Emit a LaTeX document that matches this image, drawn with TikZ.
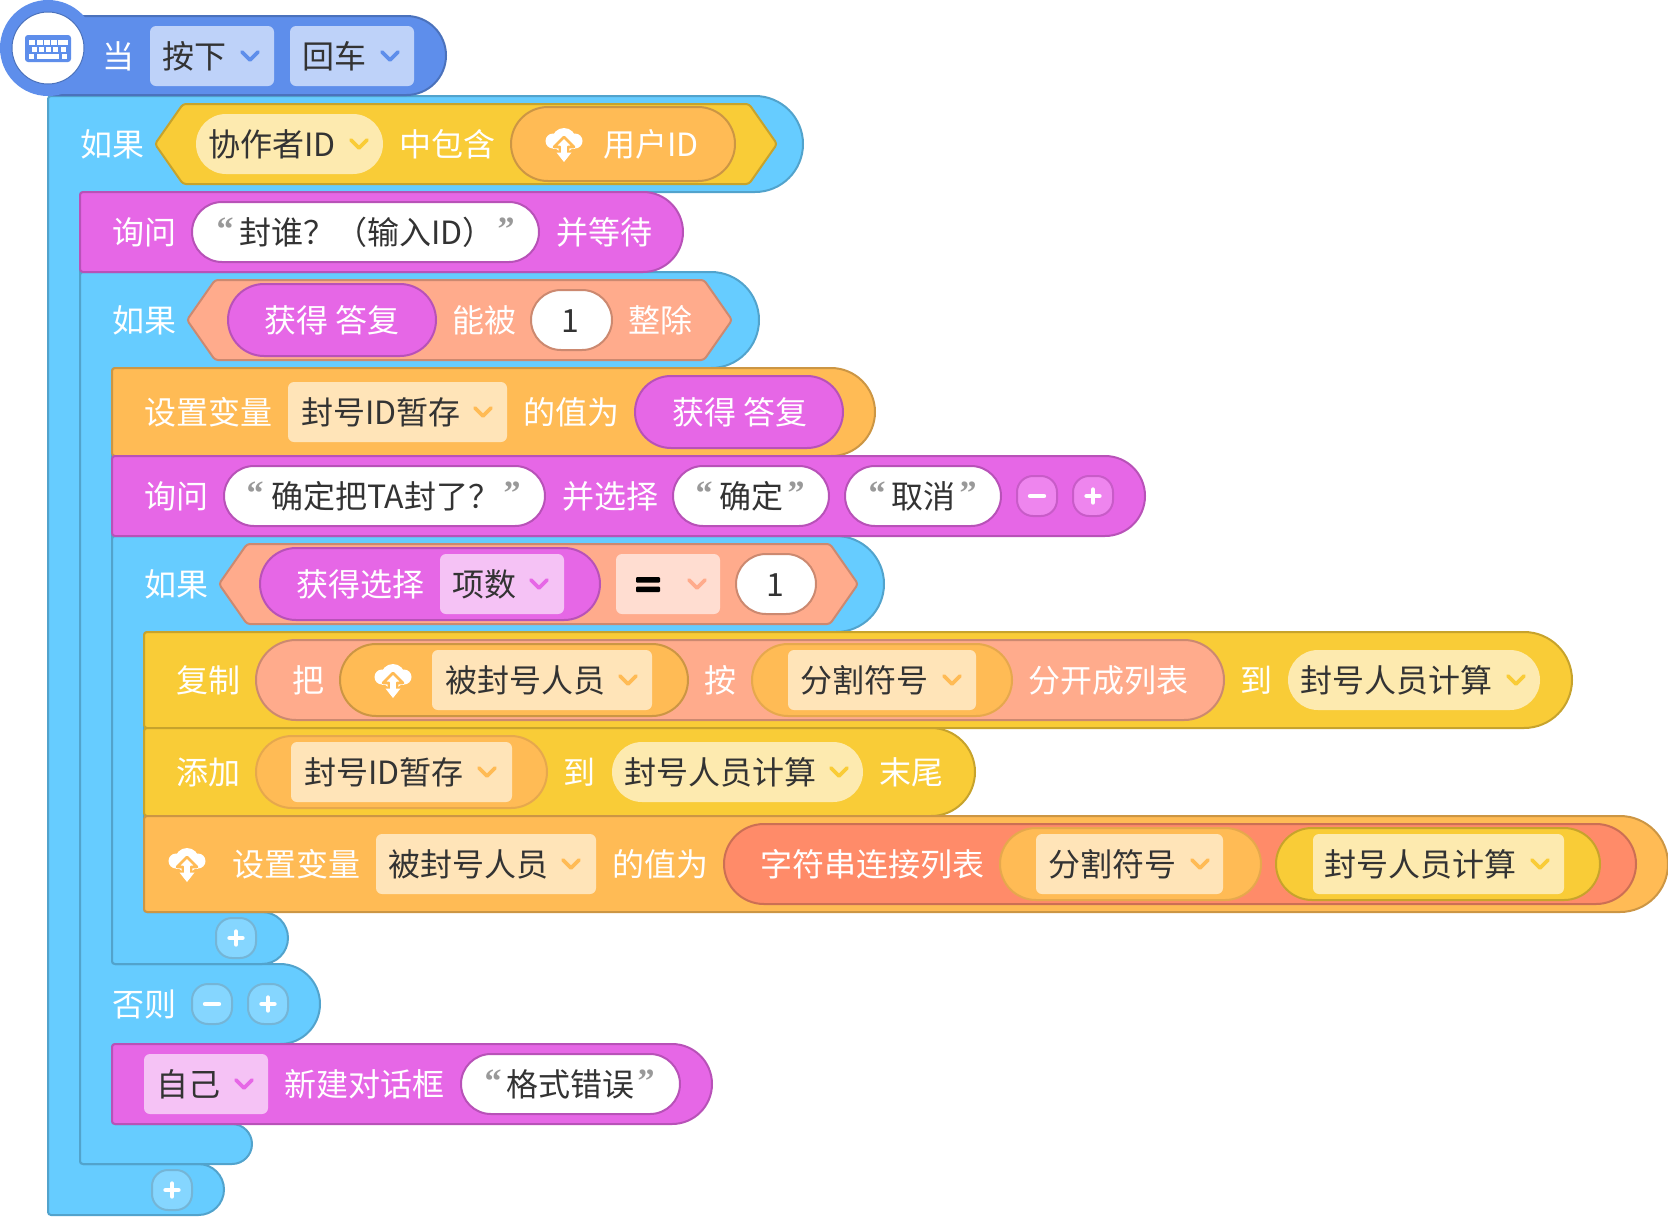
\documentclass[tikz,border=0pt]{standalone}
\usepackage{fontspec}
\setmainfont{Noto Sans CJK SC}
\newfontfamily\quotefont{Liberation Serif}
\definecolor{bluef}{HTML}{66CCFF}\definecolor{blued}{HTML}{52A3CC}\definecolor{bluel}{HTML}{85D6FF}
\definecolor{hatf}{HTML}{5E8EEB}\definecolor{hatd}{HTML}{4B72BC}\definecolor{hatl}{HTML}{BED2F9}
\definecolor{purf}{HTML}{E667E6}\definecolor{purd}{HTML}{B852B8}\definecolor{purl}{HTML}{F5C2F5}\definecolor{purb}{HTML}{EE85EE}\definecolor{purm}{HTML}{C85CC8}
\definecolor{orf}{HTML}{FFBB55}\definecolor{ord}{HTML}{CC9644}\definecolor{orl}{HTML}{FFE4B8}\definecolor{orp}{HTML}{E6A84D}
\definecolor{yef}{HTML}{F9CC37}\definecolor{yed}{HTML}{C7A32C}\definecolor{yel}{HTML}{FDEAAF}
\definecolor{saf}{HTML}{FFAB8C}\definecolor{sad}{HTML}{CC8970}\definecolor{sal}{HTML}{FFDDD1}
\definecolor{ref}{HTML}{FF8B69}\definecolor{red2}{HTML}{CC6F54}
\definecolor{ink}{HTML}{333333}
\newcount\nodeno
\tikzset{
  txt/.style={inner sep=0pt,outer sep=0pt,text height=24pt,text depth=0pt,font=\fontsize{32}{32}\selectfont},
  wtxt/.style={txt,text=white},
  dtxt/.style={txt,text=ink},
  qtxt/.style={inner sep=0pt,anchor=base,text=black!40,font=\fontsize{34}{34}\selectfont\quotefont\bfseries},
  cblock/.style={fill=bluef,draw=blued,line width=2pt},
  chev/.style={line width=3.6pt,line cap=round,line join=round},
  btn/.style={fill=bluel,draw=blued!80,line width=2pt,rounded corners=16pt},
  bbtn/.style={fill=purb,draw=purm,line width=2pt,rounded corners=16pt},
  sign/.style={draw=white,line width=4.4pt,line cap=round}
}
% text: options, x, y, text
\newcommand\W[4][]{\global\advance\nodeno by 1 \node[wtxt,#1] (w\the\nodeno) at (#2,#3) {#4};}
\newcommand\K[4][]{\global\advance\nodeno by 1 \node[dtxt,#1] (k\the\nodeno) at (#2,#3) {#4};}
% quotes: x1, x2, yc
\newcommand\QQ[3]{\global\advance\nodeno by 1
  \node[qtxt] (qa\the\nodeno) at (#1,#3+8) {“};
  \node[qtxt] (qb\the\nodeno) at (#2,#3+8) {”};}
% block with small left corners, round right: style,x1,y1,x2,y2
\newcommand\block[5]{\pgfmathsetmacro\rr{(#5-#3)/2}
  \draw[#1,rounded corners=3pt] (#2,#5) -- (#2,#3) -- ({(#2+#4)/2},#3) [rounded corners=\rr pt] -- (#4,#3) -- (#4,#5) -- ({(#2+#4)/2},#5) [rounded corners=3pt] -- cycle;}
% pill: style,x1,x2,y1,y2
\newcommand\pill[5]{\pgfmathsetmacro\rr{(#5-#4)/2}
  \draw[#1,rounded corners=\rr pt] (#2,#4) rectangle (#3,#5);}
% hexagon: style,x1,x2,y1,y2
\newcommand\hexa[5]{\draw[#1,rounded corners=3pt] (#2,{(#4+#5)/2}) -- (#2+28,#4) -- (#3-28,#4) -- (#3,{(#4+#5)/2}) -- (#3-28,#5) -- (#2+28,#5) -- cycle;}
% dropdown: fill,chevron colour,x1,x2,yc,chevx
\newcommand\dd[6]{\fill[#1,rounded corners=6pt] (#3,#5-30) rectangle (#4,#5+30);
  \draw[chev,#2] (#6-8,#5-4) -- (#6,#5+4) -- (#6+8,#5-4);}
\newcommand\ddp[6]{\fill[#1,rounded corners=30pt] (#3,#5-30) rectangle (#4,#5+30);
  \draw[chev,#2] (#6-8,#5-4) -- (#6,#5+4) -- (#6+8,#5-4);}
% round buttons: style,x,y
\newcommand\plusb[3]{\draw[#1] (#2-20,#3-20) rectangle (#2+20,#3+20);
  \draw[sign] (#2-6.5,#3) -- (#2+6.5,#3); \draw[sign] (#2,#3-6.5) -- (#2,#3+6.5);}
\newcommand\minusb[3]{\draw[#1] (#2-20,#3-20) rectangle (#2+20,#3+20);
  \draw[sign] (#2-7,#3) -- (#2+7,#3);}
% cloud: x,y,bg
\newcommand\cloudicon[3]{\begin{scope}[shift={(#1,#2)}]
  \fill[white] (-11,-2) circle[radius=7.5];
  \fill[white] (11,-2) circle[radius=7.5];
  \fill[white] (0,-3) circle[radius=12];
  \fill[white] (-11,-4) rectangle (11,5.5);
  \draw[#3,line width=2.6pt,fill=white,line join=round] (0,-6) -- (10,4) -- (4,4) -- (4,11) -- (-4,11) -- (-4,4) -- (-10,4) -- cycle;
  \fill[white] (-2.6,3) rectangle (2.6,11);
  \fill[white] (-7.5,9.5) -- (7.5,9.5) -- (0,19) -- cycle;
\end{scope}}
\begin{document}
\begin{tikzpicture}[x=1pt,y=-1pt]
\useasboundingbox (0,0) rectangle (1668,1216);
% === C-shaped containers ===
\draw[cblock,rounded corners=3pt] (48,1215) -- (48,96) -- (400,96) [rounded corners=48pt] -- (803,96) -- (803,192) -- (400,192) [rounded corners=3pt] -- (80,192) -- (80,1164) -- (150,1164) [rounded corners=25.5pt] -- (224,1164) -- (224,1215) -- (150,1215) [rounded corners=3pt] -- cycle;
\draw[cblock,rounded corners=3pt] (80,1164) -- (80,272) -- (400,272) [rounded corners=48pt] -- (759,272) -- (759,368) -- (400,368) [rounded corners=3pt] -- (112,368) -- (112,964) -- (200,964) [rounded corners=40pt] -- (320,964) -- (320,1044) -- (200,1044) [rounded corners=3pt] -- (112,1044) -- (112,1124) -- (180,1124) [rounded corners=20pt] -- (252,1124) -- (252,1164) -- (180,1164) [rounded corners=3pt] -- cycle;
\draw[cblock,rounded corners=3pt] (112,964) -- (112,536) -- (400,536) [rounded corners=48pt] -- (884,536) -- (884,632) -- (400,632) [rounded corners=3pt] -- (144,632) -- (144,912) -- (200,912) [rounded corners=26pt] -- (288,912) -- (288,964) -- (200,964) [rounded corners=3pt] -- cycle;
% === hat ===
\block{fill=hatf,draw=hatd,line width=2pt}{48}{16}{446}{95}
\fill[hatf] (48,48) circle[radius=48];
\draw[hatd,line width=1pt,fill=white] (48,48) circle[radius=36];
\fill[hatf,rounded corners=3pt] (25,35) rectangle (71,62);
\foreach \kx/\kw in {29/6,37/5.5,44/5.5,51/5.5,58/9.5}{\fill[white] (\kx,40) rectangle (\kx+\kw,44.5);}
\foreach \kx in {32,39,46,53,61}{\fill[white] (\kx,47) rectangle (\kx+4.8,51.5);}
\fill[white] (29,54) rectangle (34,58.5); \fill[white] (37,54) rectangle (59,58.5); \fill[white] (62,54) rectangle (67,58.5);
\W{118}{56}{当}
\dd{hatl}{hatf}{150}{274}{56}{250}\K{194}{56}{按下}
\dd{hatl}{hatf}{290}{414}{56}{390}\K{334}{56}{回车}
% === row 1 ===
\W{112}{144}{如果}
\hexa{fill=yef,draw=yed,line width=2pt}{155}{777}{104}{184}
\ddp{yel}{yef}{196}{383}{144}{359}\K[anchor=west]{208}{144}{协作者ID}
\W{447}{144}{中包含}
\pill{fill=orf,draw=ord,line width=2pt}{511}{735}{107}{181}
\cloudicon{564}{143}{orf}
\W{651}{144}{用户ID}
% === row 2 ===
\block{fill=purf,draw=purd,line width=2pt}{80}{192}{683}{272}
\W{144}{232}{询问}
\pill{fill=white,draw=purd,line width=2pt}{192}{539}{202}{262}
\QQ{225}{506}{232}\K[anchor=west]{239}{232}{封谁？（输入ID）}
\W{604}{232}{并等待}
% === row 3 ===
\W{144}{320}{如果}
\hexa{fill=saf,draw=sad,line width=2pt}{187}{732}{280}{360}
\pill{fill=purf,draw=purd,line width=2pt}{228}{436}{284}{356}
\W{332}{320}{获得 答复}
\W{484}{320}{能被}
\pill{fill=white,draw=sad,line width=2pt}{531}{612}{290}{350}
\K{570}{320}{1}
\W{660}{320}{整除}
% === row 4 ===
\block{fill=orf,draw=ord,line width=2pt}{112}{368}{875}{456}
\W{208}{412}{设置变量}
\dd{orl}{orf}{288}{507}{412}{483}\K[anchor=west]{301}{412}{封号ID暂存}
\W{571}{412}{的值为}
\pill{fill=purf,draw=purd,line width=2pt}{635}{843}{376}{448}
\W{740}{412}{获得 答复}
% === row 5 ===
\block{fill=purf,draw=purd,line width=2pt}{112}{456}{1145}{536}
\W{176}{496}{询问}
\pill{fill=white,draw=purd,line width=2pt}{224}{545}{466}{526}
\QQ{255}{512}{496}\K[anchor=west]{271}{496}{确定把TA封了？}
\W{610}{496}{并选择}
\pill{fill=white,draw=purd,line width=2pt}{673}{829}{466}{526}
\QQ{704}{796}{496}\K{751}{496}{确定}
\pill{fill=white,draw=purd,line width=2pt}{845}{1001}{466}{526}
\QQ{877}{968}{496}\K{923}{496}{取消}
\minusb{bbtn}{1037}{496}
\plusb{bbtn}{1093}{496}
% === row 6 ===
\W{176}{584}{如果}
\hexa{fill=saf,draw=sad,line width=2pt}{219}{858}{544}{624}
\pill{fill=purf,draw=purd,line width=2pt}{260}{600}{548}{620}
\W{360}{584}{获得选择}
\dd{purl}{purf}{440}{564}{584}{539}\K{484}{584}{项数}
\dd{sal}{saf}{616}{720}{584}{697}
\fill[black,rounded corners=1pt] (636,577) rectangle (660,582.5);
\fill[black,rounded corners=1pt] (636,586.5) rectangle (660,592);
\pill{fill=white,draw=sad,line width=2pt}{736}{816}{554}{614}
\K{775}{584}{1}
% === row 7 ===
\block{fill=yef,draw=yed,line width=2pt}{144}{632}{1572}{728}
\W{208}{680}{复制}
\pill{fill=saf,draw=sad,line width=2pt}{256}{1224}{640}{720}
\W{308}{680}{把}
\pill{fill=orf,draw=ord,line width=2pt}{340}{688}{644}{716}
\cloudicon{393}{679}{orf}
\dd{orl}{orf}{432}{652}{680}{628}\K{525}{680}{被封号人员}
\W{720}{680}{按}
\pill{fill=orf,draw=orp,line width=2pt}{752}{1012}{644}{716}
\dd{orl}{orf}{788}{976}{680}{952}\K{864}{680}{分割符号}
\W{1108}{680}{分开成列表}
\W{1256}{680}{到}
\ddp{yel}{yef}{1288}{1540}{680}{1516}\K{1396}{680}{封号人员计算}
% === row 8 ===
\block{fill=yef,draw=yed,line width=2pt}{144}{728}{975}{816}
\W{208}{772}{添加}
\pill{fill=orf,draw=orp,line width=2pt}{256}{547}{736}{808}
\dd{orl}{orf}{291}{512}{772}{487}\K[anchor=west]{304}{772}{封号ID暂存}
\W{579}{772}{到}
\ddp{yel}{yef}{612}{863}{772}{839}\K{720}{772}{封号人员计算}
\W{911}{772}{末尾}
% === row 9 ===
\block{fill=orf,draw=ord,line width=2pt}{144}{816}{1668}{912}
\cloudicon{187}{863}{orf}
\W{296}{864}{设置变量}
\dd{orl}{orf}{376}{596}{864}{571}\K{468}{864}{被封号人员}
\W{660}{864}{的值为}
\pill{fill=ref,draw=red2,line width=2pt}{724}{1636}{824}{904}
\W{872}{864}{字符串连接列表}
\pill{fill=orf,draw=orp,line width=2pt}{1000}{1261}{828}{900}
\dd{orl}{orf}{1036}{1223}{864}{1200}\K{1112}{864}{分割符号}
\pill{fill=yef,draw=yed,line width=2pt}{1276}{1600}{828}{900}
\dd{yel}{yef}{1313}{1564}{864}{1540}\K{1420}{864}{封号人员计算}
% === lower part ===
\plusb{btn}{236}{938}
\W{144}{1004}{否则}
\minusb{btn}{212}{1004}
\plusb{btn}{268}{1004}
\block{fill=purf,draw=purd,line width=2pt}{112}{1044}{712}{1124}
\dd{purl}{purf}{144}{268}{1084}{244}\K{188}{1084}{自己}
\W{364}{1084}{新建对话框}
\pill{fill=white,draw=purd,line width=2pt}{461}{680}{1054}{1114}
\QQ{493}{646}{1084}\K{570}{1084}{格式错误}
\plusb{btn}{172}{1190}
\end{tikzpicture}
\end{document}
